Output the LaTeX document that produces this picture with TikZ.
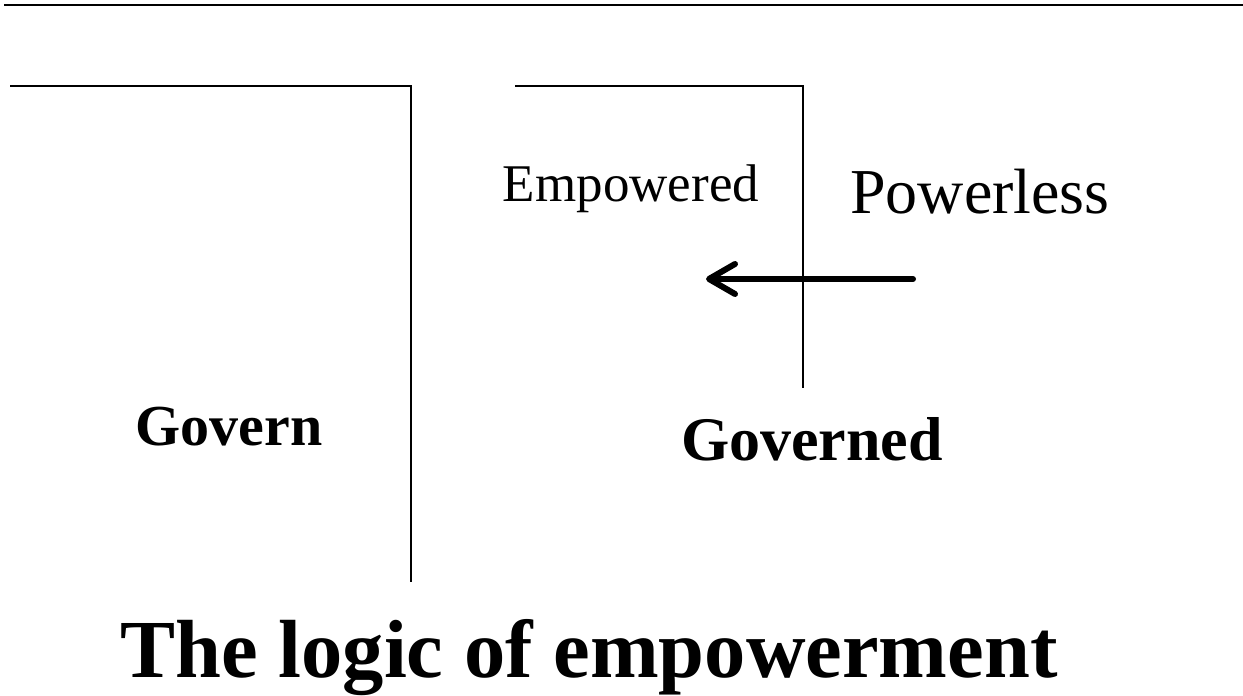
\documentclass[tikz,border=0pt]{standalone}
\usepackage{fontspec}
\setmainfont{Liberation Serif}
\usepackage{tikz}
\usetikzlibrary{positioning, arrows.meta}

\tikzset{
  rule/.style={line width=1.3pt},
  lbl/.style={anchor=base, inner sep=0pt},
}

\begin{document}
\begin{tikzpicture}[x=1pt, y=1pt]
    \useasboundingbox (0,0) rectangle (1243,696);

    % top rule and the two brackets
    \draw[line width=1.8pt] (4,691) -- (1243,691);
    \draw[rule] (10,610) -- (411,610) -- (411,114);
    \draw[rule] (515,610) -- (803,610) -- (803,308);

    \node[lbl, font=\fontsize{53}{60}\selectfont] (emp) at (631,494) {Empowered};
    \node[lbl, font=\fontsize{64}{72}\selectfont] (pow) at (980,482) {Powerless};
    \node[lbl, font=\fontsize{58}{66}\selectfont\bfseries] (gov) at (229,250) {Govern};
    \node[lbl, font=\fontsize{62}{70}\selectfont\bfseries] (govd) at (812,235) {Governed};
    \node[lbl, font=\fontsize{82.5}{90}\selectfont\bfseries] (title) at (589,18) {The logic of empowerment};

    \coordinate (from) at (913,417);
    \coordinate (to) at (706,417);
    \draw[line width=6pt, line cap=round, -{Straight Barb[length=26pt, width=30pt, line width=6pt, round]}] (from) -- (to);
\end{tikzpicture}
\end{document}
